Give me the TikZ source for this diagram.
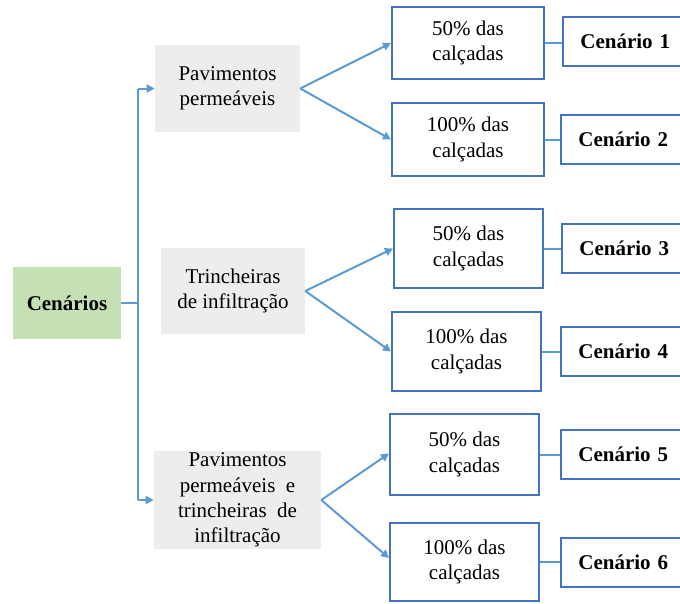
\documentclass[tikz,border=0pt]{standalone}
\usepackage{fontspec}
\setmainfont{Liberation Serif}
\usetikzlibrary{arrows.meta}
\definecolor{linecol}{HTML}{5B9BD5}
\definecolor{boxcol}{HTML}{4472C4}
\definecolor{graycol}{HTML}{EDEDED}
\definecolor{greencol}{HTML}{C5E0B4}
\begin{document}
\begin{tikzpicture}[x=0.75pt,y=-0.75pt,
  every node/.style={inner sep=0pt, align=center, font=\fontsize{15.75}{19}\selectfont},
  graybox/.style={fill=graycol},
  optbox/.style={draw=boxcol, line width=1.5pt, fill=white, minimum width=111.75pt},
  cenbox/.style={draw=boxcol, line width=1.5pt, fill=white, minimum width=95.25pt, minimum height=36.75pt, text width=95.25pt, align=left},
  conn/.style={draw=linecol, line width=1.5pt},
  arr/.style={conn, -{Triangle[length=6pt,width=6pt]}}
]
\useasboundingbox (0,0) rectangle (680,603);
\begin{scope}
\clip (0,0) rectangle (680,603);
% root
\node[fill=greencol, minimum width=81pt, minimum height=54pt, font=\fontsize{15.75}{19}\selectfont\bfseries] (root) at (67,303) {Cenários};
% level 1
\node[graybox, minimum width=108.75pt, minimum height=65.25pt] (pav) at (227.5,88.5) {Pavimentos\\permeáveis};
\node[graybox, minimum width=108pt, minimum height=64.5pt] (tri) at (233,291) {Trincheiras\\de infiltração};
\node[graybox, minimum width=125.25pt, minimum height=73.5pt] (both) at (237.5,500) {Pavimentos\\permeáveis\ \ e\\trincheiras\ \ de\\infiltração};
% level 2
\node[optbox, minimum width=114pt, minimum height=54pt] (a1) at (468,43) {50\% das\\calçadas};
\node[optbox, minimum width=114pt, minimum height=54.75pt] (a2) at (468,139.5) {100\% das\\calçadas};
\node[optbox, minimum height=59.25pt] (b1) at (468.5,248.5) {50\% das\\calçadas};
\node[optbox, minimum height=59.25pt] (b2) at (466.5,351.5) {100\% das\\calçadas};
\node[optbox, minimum height=60.75pt] (c1) at (464.5,454.5) {50\% das\\calçadas};
\node[optbox, minimum height=58.5pt] (c2) at (464.5,562) {100\% das\\calçadas};
% scenarios
\node[cenbox] (s1) at (626.5,41.5) {\hspace*{13pt}\textbf{Cenário 1}};
\node[cenbox] (s2) at (624.5,139.5) {\hspace*{13pt}\textbf{Cenário 2}};
\node[cenbox] (s3) at (625.5,248) {\hspace*{13pt}\textbf{Cenário 3}};
\node[cenbox] (s4) at (624.5,351.5) {\hspace*{13pt}\textbf{Cenário 4}};
\node[cenbox] (s5) at (624.5,454) {\hspace*{13pt}\textbf{Cenário 5}};
\node[cenbox] (s6) at (624.5,562.5) {\hspace*{13pt}\textbf{Cenário 6}};
% trunk
\coordinate (t1) at (138,88.5);
\coordinate (t2) at (138,500);
\draw[conn] (t1) -- (t2);
\draw[conn] (root.east) -- (root.east -| t1);
\draw[arr] (t1) -- (pav.west);
\draw[arr] (t2) -- (both.west);
% branches
\draw[arr] (pav.east) -- (a1.west);
\draw[arr] (pav.east) -- (a2.west);
\draw[arr] (tri.east) -- (b1.west);
\draw[arr] (tri.east) -- (b2.west);
\draw[arr] (both.east) -- ([yshift=0.75pt]c1.west);
\draw[arr] (both.east) -- ([yshift=3pt]c2.west);
% links to scenarios
\draw[conn] (a1.east) -- (a1.east -| s1.west);
\draw[conn] (a2.east) -- (a2.east -| s2.west);
\draw[conn] (b1.east) -- (b1.east -| s3.west);
\draw[conn] (b2.east) -- (b2.east -| s4.west);
\draw[conn] (c1.east) -- (c1.east -| s5.west);
\draw[conn] (c2.east) -- (c2.east -| s6.west);
\end{scope}
\end{tikzpicture}
\end{document}
